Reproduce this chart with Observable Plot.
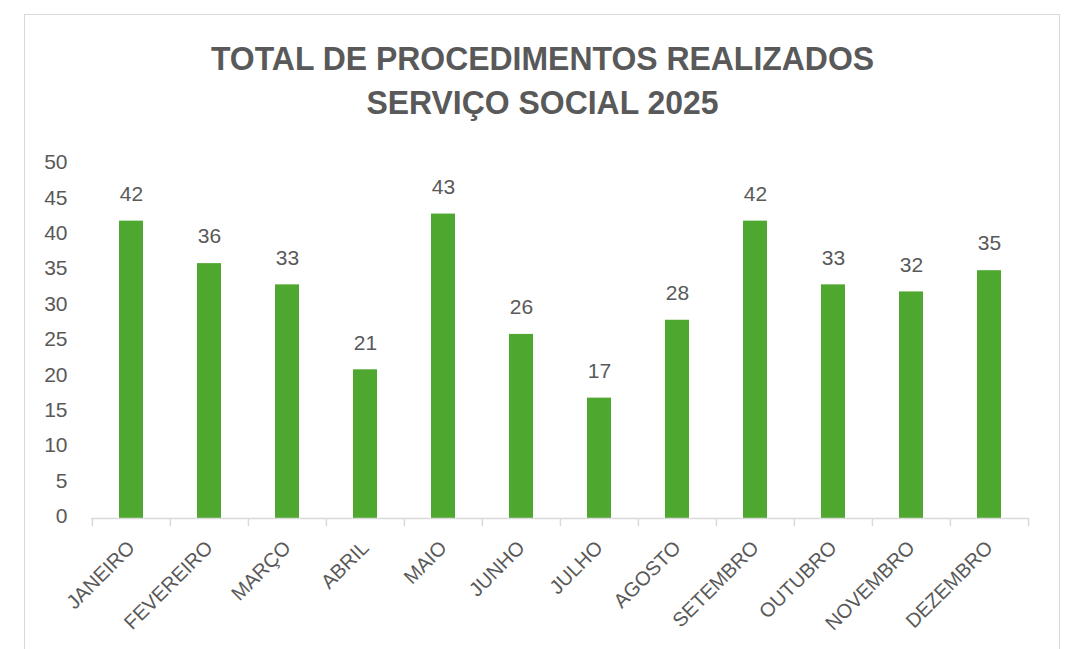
<!DOCTYPE html>
<html>
<head>
<meta charset="utf-8">
<script src="https://cdn.jsdelivr.net/npm/d3@7"></script>
<script src="https://cdn.jsdelivr.net/npm/@observablehq/plot@0.6"></script>
<style>
  html, body { margin: 0; padding: 0; background: #fff; overflow: hidden; }
  #frame { position: absolute; left: 24px; top: 14px; width: 1036px; height: 700px; border: 1px solid #d9d9d9; box-sizing: border-box; }
  #title { position: absolute; left: 24px; top: 37px; width: 1037px; text-align: center;
    font-family: "Liberation Sans", Arial, sans-serif; font-weight: bold; font-size: 33px; line-height: 44px; color: #595959;
    transform: scaleX(0.968); transform-origin: 518px 0; }
  #chart { position: absolute; left: 0; top: 0; }
</style>
</head>
<body>
<div id="frame"></div>
<div id="title">TOTAL DE PROCEDIMENTOS REALIZADOS<br>SERVIÇO SOCIAL 2025</div>
<div id="chart"></div>
<script>
const months = ["JANEIRO", "FEVEREIRO", "MARÇO", "ABRIL", "MAIO", "JUNHO", "JULHO", "AGOSTO", "SETEMBRO", "OUTUBRO", "NOVEMBRO", "DEZEMBRO"];
const values = [42, 36, 33, 21, 43, 26, 17, 28, 42, 33, 32, 35];
const yTicks = [0, 5, 10, 15, 20, 25, 30, 35, 40, 45, 50];

const data = months.map((m, i) => ({month: m, value: values[i]}));

const W = 1065, H = 649, ML = 91, MR = 36, MT = 164, MB = 131;
const step = (W - ML - MR) / months.length;
const font = "'Liberation Sans', Arial, sans-serif";
const grey = "#595959";

const chart = Plot.plot({
  width: W, height: H,
  marginLeft: ML, marginRight: MR, marginTop: MT, marginBottom: MB,
  style: {fontFamily: font, color: grey, background: "transparent", overflow: "visible"},
  x: {domain: months, paddingInner: 0.69, paddingOuter: 0.345},
  y: {domain: [0, 50]},
  marks: [
    Plot.barY(data, {x: "month", y: "value", fill: "#4ea72e"}),
    Plot.ruleY([0], {stroke: "#d9d9d9", strokeWidth: 1.5}),
    Plot.axisY({ticks: yTicks, tickSize: 0, tickPadding: 24, fontSize: 21, dy: -2, label: null, fill: grey}),
    Plot.axisX({tickSize: 8, tickFormat: () => "", dx: -step / 2, stroke: "#d9d9d9", strokeWidth: 1.5, label: null}),
    Plot.axisX({ticks: [months[months.length - 1]], tickSize: 8, tickFormat: () => "", dx: step / 2, stroke: "#d9d9d9", strokeWidth: 1.5, label: null}),
    Plot.axisX({tickSize: 0, tickPadding: 26, tickRotate: -45, fontSize: 20, label: null, fill: grey}),
    Plot.text(data, {x: "month", y: "value", text: d => String(d.value), dy: -27, fontSize: 21, fill: grey})
  ]
});
document.getElementById("chart").appendChild(chart);
</script>
</body>
</html>
